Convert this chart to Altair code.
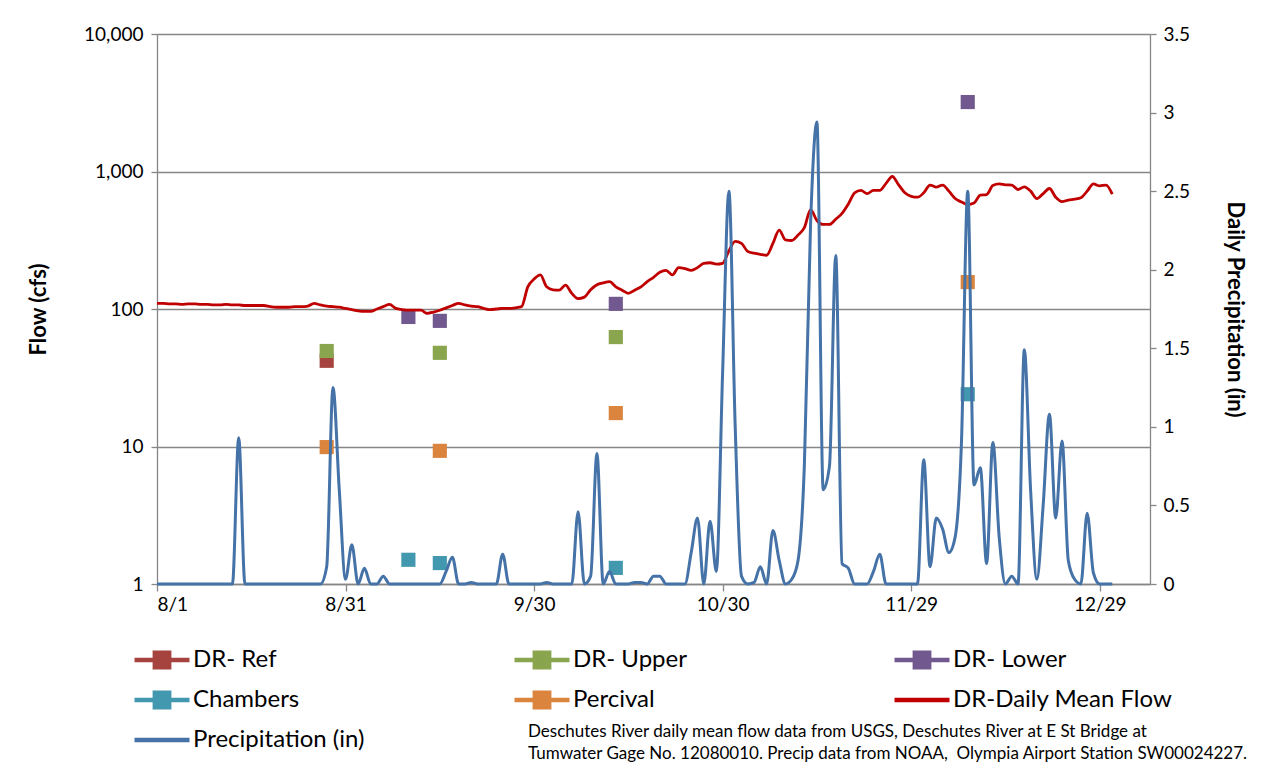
import altair as alt
import pandas as pd

START = "2013-08-01"

# Daily mean flow (cfs), 8/1 .. 12/31
flow_cfs = [
    110, 110, 109, 109, 108, 109, 109, 108, 108, 107,
    107, 108, 107, 107, 106, 106, 106, 106, 104, 103,
    103, 103, 104, 104, 105, 110, 107, 105, 104, 103,
    101, 99, 97, 96, 96, 100, 104, 108, 101, 99,
    98, 98, 98, 93, 95, 98, 102, 106, 110, 107,
    105, 104, 101, 99, 100, 101, 101, 102, 104, 145,
    165, 177, 145, 138, 137, 149, 130, 119, 122, 138,
    150, 155, 158, 145, 137, 130, 137, 145, 158, 170,
    185, 191, 177, 200, 197, 191, 200, 215, 217, 212,
    215, 265, 310, 300, 262, 255, 250, 246, 300, 375,
    318, 315, 345, 390, 527, 440, 412, 412, 450, 496,
    580, 700, 730, 690, 730, 730, 820, 920, 800, 700,
    660, 650, 700, 797, 770, 797, 720, 636, 600, 575,
    590, 674, 680, 790, 812, 800, 797, 740, 774, 720,
    636, 690, 752, 650, 604, 620, 630, 644, 720, 812,
    786, 797, 684,
]

# Daily precipitation (in), 8/1 .. 12/31
precip_in = [
    0, 0, 0, 0, 0, 0, 0, 0, 0, 0,
    0, 0, 0, 0.93, 0, 0, 0, 0, 0, 0,
    0, 0, 0, 0, 0, 0, 0, 0.11, 1.25, 0.6,
    0.03, 0.25, 0, 0.1, 0, 0, 0.05, 0, 0, 0,
    0, 0, 0, 0, 0, 0, 0.08, 0.17, 0, 0,
    0.01, 0, 0, 0, 0, 0.19, 0, 0, 0, 0,
    0, 0, 0.01, 0, 0, 0, 0, 0.46, 0, 0.05,
    0.83, 0, 0.08, 0, 0, 0, 0.01, 0.01, 0, 0.05,
    0.05, 0, 0, 0, 0, 0.2, 0.42, 0, 0.4, 0.08,
    1.35, 2.5, 1.0, 0.05, 0, 0.01, 0.11, 0, 0.34, 0.15,
    0, 0.03, 0.15, 0.75, 2.3, 2.94, 0.6, 0.75, 2.09, 0.13,
    0.1, 0, 0, 0, 0.08, 0.19, 0, 0, 0, 0,
    0, 0, 0.79, 0.11, 0.42, 0.35, 0.2, 0.3, 0.9, 2.5,
    0.63, 0.74, 0.13, 0.9, 0.3, 0, 0.05, 0, 1.49, 0.6,
    0.03, 0.5, 1.08, 0.42, 0.91, 0.15, 0.03, 0, 0.45, 0.07,
    0, 0, 0,
]

# Grab samples (flow, cfs)
sample_name = [
    "DR- Ref",
    "DR- Upper", "DR- Upper", "DR- Upper",
    "DR- Lower", "DR- Lower", "DR- Lower", "DR- Lower",
    "Chambers", "Chambers", "Chambers", "Chambers",
    "Percival", "Percival", "Percival", "Percival",
]
sample_date = [
    "2013-08-28",
    "2013-08-28", "2013-09-15", "2013-10-13",
    "2013-09-10", "2013-09-15", "2013-10-13", "2013-12-08",
    "2013-09-10", "2013-09-15", "2013-10-13", "2013-12-08",
    "2013-08-28", "2013-09-15", "2013-10-13", "2013-12-08",
]
sample_cfs = [
    42,
    49.5, 48, 62.5,
    87.5, 82, 109, 3200,
    1.5, 1.42, 1.31, 24,
    9.9, 9.3, 17.5, 157,
]

series_names = ["DR- Ref", "DR- Upper", "DR- Lower", "Chambers", "Percival",
                "DR-Daily Mean Flow", "Precipitation (in)"]
series_colors = ["#A6433F", "#89A54E", "#71588F", "#4198AF", "#DB843D",
                 "#C00000", "#4572A7"]

tick_dates = ["2013-08-01", "2013-08-31", "2013-09-30", "2013-10-30",
              "2013-11-29", "2013-12-29"]
flow_ticks = [1, 10, 100, 1000, 10000]
precip_ticks = [0, 0.5, 1, 1.5, 2, 2.5, 3, 3.5]

footnote = [
    "Deschutes River daily mean flow data from USGS, Deschutes River at E St Bridge at",
    "Tumwater Gage No. 12080010. Precip data from NOAA,\u00a0 Olympia Airport Station SW00024227.",
]

FONT = "Lato"
GRAY = "#868686"
LINE_MARKER = "M-1,0L1,0M-0.26,-0.26L0.26,-0.26L0.26,0.26L-0.26,0.26Z"
LINE_ONLY = "M-1,0L1,0"
legend_shapes = [LINE_MARKER] * 5 + [LINE_ONLY] * 2

days = pd.date_range(START, periods=len(flow_cfs), freq="D").strftime("%Y-%m-%dT00:00:00").tolist()
flow_df = pd.DataFrame({"date": days, "value": flow_cfs, "series": "DR-Daily Mean Flow"})
precip_df = pd.DataFrame({"date": days, "value": precip_in, "series": "Precipitation (in)"})
sample_df = pd.DataFrame({"date": [d + "T00:00:00" for d in sample_date],
                          "value": sample_cfs, "series": sample_name})
legend_df = pd.DataFrame({"date": [days[0]] * len(series_names), "value": [1.0] * len(series_names),
                          "series": series_names})


def dt(s):
    y, m, d = (int(p) for p in s.split("-"))
    return alt.DateTime(year=y, month=m, date=d)


x_enc = alt.X(
    "date:T",
    scale=alt.Scale(domain=[dt("2013-08-01"), dt("2014-01-06")]),
    axis=alt.Axis(values=[dt(t) for t in tick_dates], format="%-m/%-d", title=None,
                  grid=False, tickSize=7, labelPadding=4, labelFontSize=19,
                  labelFont=FONT, labelColor="#000", domainColor=GRAY, tickColor=GRAY,
                  domainWidth=1.3, tickWidth=1.3),
)

legend = alt.Legend(
    title=None, orient="none", legendX=-25, legendY=606, columns=3, direction="horizontal",
    gridAlign="all", columnPadding=99, rowPadding=0, clipHeight=40,
    symbolSize=3025, symbolStrokeWidth=4.5, labelFontSize=24, labelFont=FONT,
    labelColor="#000", labelOffset=1, labelLimit=400, padding=0, symbolOpacity=1,
)
color_scale = alt.Scale(domain=series_names, range=series_colors)
color_enc = alt.Color("series:N", scale=color_scale, legend=legend)

flow_axis = alt.Axis(values=flow_ticks, format=",.0f", title="Flow (cfs)", grid=True,
                     gridColor=GRAY, gridWidth=1.3, domainColor=GRAY, tickColor=GRAY,
                     domainWidth=1.3, tickWidth=1.3, tickSize=6, labelPadding=8,
                     labelFontSize=19, labelFont=FONT, labelColor="#000",
                     titleFont=FONT, titleFontSize=22, titleFontWeight="bold",
                     titleColor="#000", titlePadding=33)
flow_y = alt.Y("value:Q", scale=alt.Scale(type="log", domain=[1, 10000]), axis=flow_axis)

samples = alt.Chart(sample_df).mark_square(size=200, opacity=1, filled=True).encode(
    x=x_enc, y=flow_y, color=color_enc,
)
flow = alt.Chart(flow_df).mark_line(strokeWidth=2.8, interpolate="monotone").encode(
    x=x_enc, y=flow_y, color=color_enc,
)
# legend-only layer (no visible marks): gives each legend entry its symbol shape
legend_layer = alt.Chart(legend_df).transform_filter("false").mark_point(
    filled=True, opacity=1
).encode(
    x=x_enc, y=flow_y, color=color_enc,
    stroke=alt.Stroke("series:N", scale=color_scale, legend=legend),
    shape=alt.Shape("series:N", scale=alt.Scale(domain=series_names, range=legend_shapes),
                    legend=legend),
)
precip = alt.Chart(precip_df).mark_line(strokeWidth=3, interpolate="monotone").encode(
    x=x_enc,
    y=alt.Y("value:Q", scale=alt.Scale(domain=[0, 3.5], nice=False),
            axis=alt.Axis(orient="right", values=precip_ticks, format="~g",
                          title="Daily Precipitation (in)", grid=False,
                          domainColor=GRAY, tickColor=GRAY, domainWidth=1.3, tickWidth=1.3,
                          tickSize=6, labelPadding=7, labelFontSize=19, labelFont=FONT,
                          labelColor="#000", titleFont=FONT, titleFontSize=22,
                          titleFontWeight="bold", titleColor="#000", titlePadding=33)),
    color=color_enc,
)

left = alt.layer(samples, flow, legend_layer)
chart = alt.layer(left, precip).resolve_scale(y="independent").properties(
    width=993,
    height=550,
    title=alt.TitleParams(text=footnote, orient="bottom", anchor="start", frame="group",
                          dx=371, dy=-36, offset=0, font=FONT, fontSize=17,
                          fontWeight="normal", lineHeight=22, color="#000"),
    autosize=alt.AutoSizeParams(type="none"),
    padding={"left": 157, "top": 34, "right": 134, "bottom": 188},
    background="white",
).configure_view(stroke=None)

chart.save("out.html", embed_options={"renderer": "svg", "actions": False})
